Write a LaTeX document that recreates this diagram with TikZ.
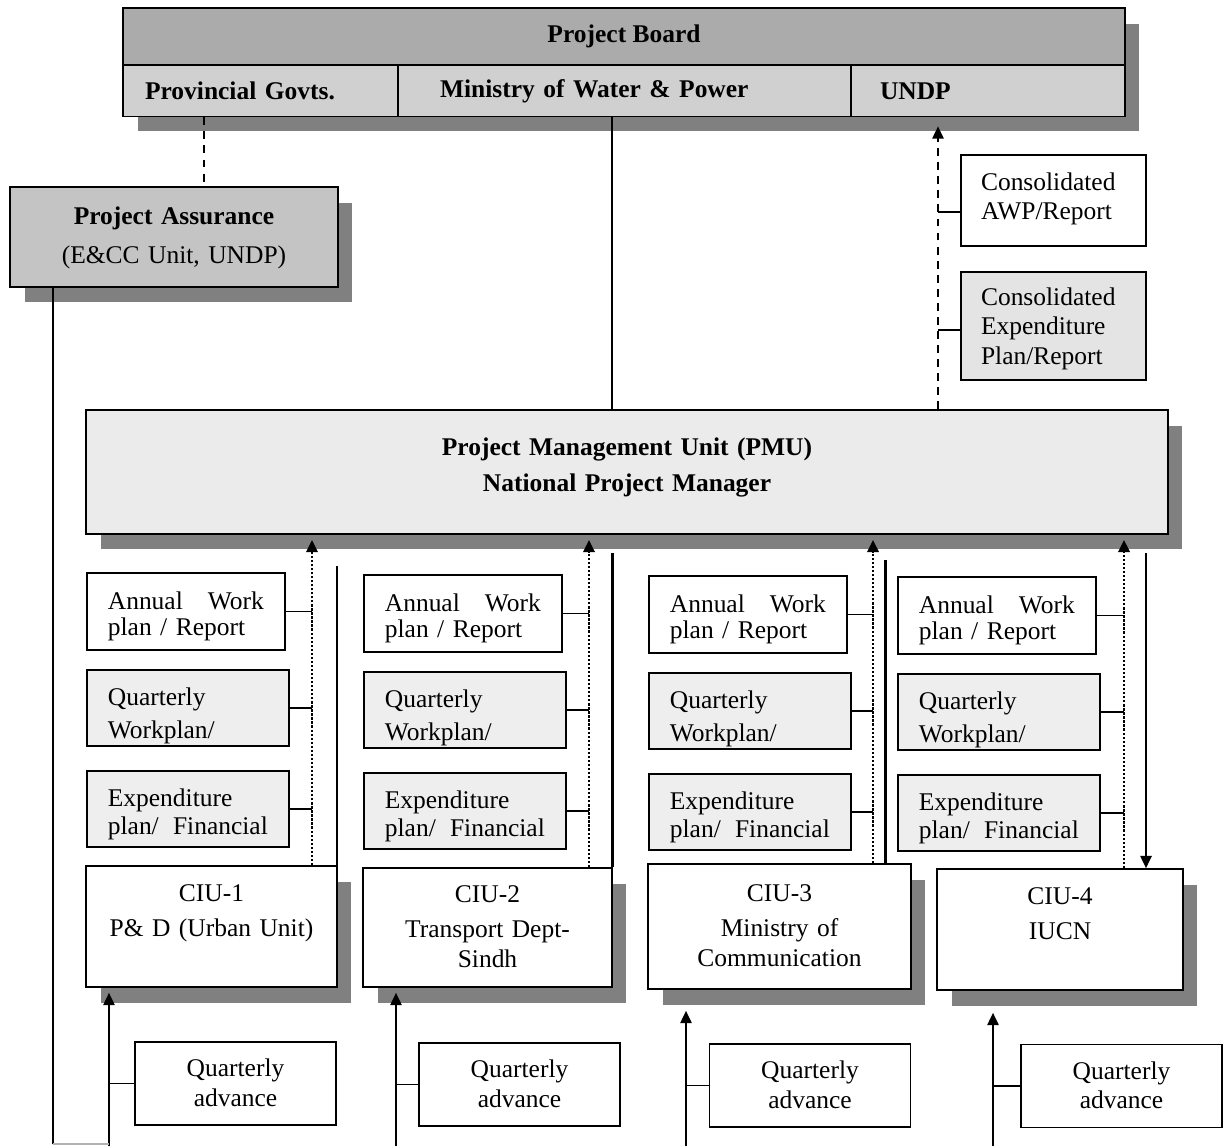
\documentclass[tikz,border=0pt]{standalone}
\usepackage{fontspec}
\setmainfont{Liberation Serif}
\usepackage{xcolor}
\usepackage{tikz}
\usetikzlibrary{arrows.meta, positioning, shadows}
\definecolor{boardgray}{HTML}{ABABAB}
\definecolor{rowgray}{HTML}{D0D0D0}
\definecolor{assuregray}{HTML}{C4C4C4}
\definecolor{pmugray}{HTML}{EBEBEB}
\definecolor{plangray}{HTML}{EEEEEE}
\definecolor{consgray}{HTML}{E4E4E4}
\definecolor{shadowgray}{HTML}{808080}

\begin{document}
\begin{tikzpicture}[x=0.02cm, y=-0.02cm,
    box/.style={draw, line width=1pt, inner sep=0pt, align=center,
      font=\fontsize{14.5}{17}\selectfont},
    firstline/.style={text height=0pt, text depth=#1},
    boxshadow/.style={drop shadow={shadow xshift=0.29cm,
      shadow yshift=-0.31cm, fill=shadowgray, opacity=1}},
    cell/.style={box, fill=rowgray, align=left,
      minimum height=1.02cm, font=\fontsize{14.5}{17}\selectfont\bfseries},
    linkline/.style={line width=1pt},
    barline/.style={line width=1.7pt},
    flowarrow/.style={line width=0.9pt, -{Triangle[length=7pt,width=6.5pt]}},
    reportarrow/.style={line width=1.4pt, dash pattern=on 1.3pt off 1pt,
      -{Triangle[length=7pt,width=6.5pt]}, shorten >=0.1cm},
    dashline/.style={line width=0.9pt, dash pattern=on 4.5pt off 3.5pt}]
  \useasboundingbox (0,0) rectangle (1226,1146);
  % Board on top
  \node[box, boxshadow, fill=rowgray, minimum width=20.04cm, minimum height=2.16cm]
    (frame) at (624,62) {};
  \node[box, fill=boardgray, minimum width=20.04cm, minimum height=1.14cm,
    font=\fontsize{14.5}{17}\selectfont\bfseries] (board) at (624,36.5) {Project Board};
  \node[cell, inner xsep=0.44cm, text width=4.62cm] (prov) at (260.5,91) {Provincial Govts.};
  \node[cell, inner xsep=0.84cm, text width=7.38cm] (mwp) at (624.5,91) {Ministry of Water \& Power};
  \node[cell, inner xsep=0.58cm, text width=4.32cm] (undp) at (988,91) {UNDP};
  % Assurance and consolidated reports
  \node[box, boxshadow, fill=assuregray, text width=6.56cm, minimum height=2cm,
    firstline=0.52cm, font=\fontsize{14.5}{22.7}\selectfont] (pa) at (174,237)
    {\textbf{Project Assurance}\\(E\&CC Unit, UNDP)};
  \node[box, align=left, inner xsep=0.4cm, text width=2.9cm, minimum height=1.82cm,
    firstline=0.42cm] (cawp) at (1053.5,200.5) {Consolidated\\AWP/Report};
  \node[box, fill=consgray, align=left, inner xsep=0.4cm, text width=2.9cm,
    minimum height=2.16cm, firstline=0.84cm] (cexp) at (1053.5,326)
    {Consolidated\\Expenditure\\Plan/Report};
  % PMU
  \node[box, boxshadow, fill=pmugray, text width=21.64cm, minimum height=2.48cm,
    firstline=0.68cm, font=\fontsize{14.5}{21}\selectfont\bfseries] (pmu) at (627,472)
    {Project Management Unit (PMU)\\National Project Manager};
  % CIUs
  \node[box, boxshadow, fill=white, text width=5.02cm, minimum height=2.42cm,
    firstline=1.02cm] (ciu1) at (211.5,926.5) {CIU-1\\[3pt]P\& D (Urban Unit)};
  \node[box, boxshadow, fill=white, text width=4.98cm, minimum height=2.38cm,
    firstline=1.02cm] (ciu2) at (487.5,927.5) {CIU-2\\[3pt]Transport Dept-\\Sindh};
  \node[box, boxshadow, fill=white, text width=5.26cm, minimum height=2.5cm,
    firstline=1.02cm] (ciu3) at (779.5,926.5) {CIU-3\\[3pt]Ministry of\\Communication};
  \node[box, boxshadow, fill=white, text width=4.92cm, minimum height=2.42cm,
    firstline=1.02cm] (ciu4) at (1060,929.5) {CIU-4\\[3pt]IUCN};
  % Plans and reports per CIU
  \foreach \i/\lx/\dy/\dx in {1/86/0/312, 2/363/2/589, 3/648/3/873, 4/897/4/1124}{
    \coordinate (dl\i) at (\dx,0);
    \node[box, fill=white, anchor=west, align=left, inner xsep=0.42cm, text width=3.12cm,
      minimum height=1.54cm, firstline=0.1cm, font=\fontsize{14.5}{15.3}\selectfont]
      (awp\i) at (\lx,611.5+\dy) {Annual \hfill Work\\plan / Report};
    \node[box, fill=plangray, anchor=west, align=left, inner xsep=0.42cm, text width=3.2cm,
      minimum height=1.52cm, firstline=0.12cm, font=\fontsize{14.5}{19.3}\selectfont]
      (qwp\i) at (\lx,708+\dy) {Quarterly\\Workplan/};
    \node[box, fill=plangray, anchor=west, align=left, inner xsep=0.42cm, text width=3.2cm,
      minimum height=1.52cm, firstline=0.12cm, font=\fontsize{14.5}{16.4}\selectfont]
      (exp\i) at (\lx,809+\dy) {Expenditure\\plan/ \hfill Financial};
    \draw[linkline] (awp\i.east) -- (awp\i.east -| dl\i);
    \draw[linkline] (qwp\i.east) -- (qwp\i.east -| dl\i);
    \draw[linkline] (exp\i.east) -- (exp\i.east -| dl\i);
    \draw[reportarrow] (ciu\i.north -| dl\i) -- (pmu.south -| dl\i);
  }
  % PMU down to CIUs
  \foreach \i/\sx/\sy in {1/337/566, 2/612/553, 3/885/560}{
    \coordinate (s\i) at (\sx,\sy);
    \draw[barline] (s\i) -- (s\i |- ciu\i.north);
  }
  \coordinate (s4) at (1146,553);
  \draw[flowarrow] (s4) -- (s4 |- ciu4.north);
  % Quarterly advances
  \foreach \i/\bx/\qx/\qy/\sh in {1/109/235.5/1083.5/0.1cm, 2/396/519.5/1084.5/0.1cm,
      3/686/810/1085.5/0.42cm, 4/993/1121.5/1086/0.44cm}{
    \coordinate (b\i) at (\bx,1146);
    \node[box, text width=4.02cm, minimum height=1.66cm, firstline=0.28cm]
      (qa\i) at (\qx,\qy) {Quarterly\\advance};
    \draw[flowarrow, shorten >=\sh] (b\i) -- (b\i |- ciu\i.south);
    \draw[linkline] (qa\i.west) -- (qa\i.west -| b\i);
  }
  % Links at the top
  \coordinate (pd) at (204,0);
  \coordinate (mw) at (612,0);
  \coordinate (ud) at (938,0);
  \coordinate (pa1) at (53,1144);
  \draw[dashline] (prov.south -| pd) -- (pa.north -| pd);
  \draw[linkline] (mwp.south -| mw) -- (pmu.north -| mw);
  \draw[dashline, -{Triangle[length=7pt,width=6.5pt]}, shorten >=0.18cm]
    (pmu.north -| ud) -- (undp.south -| ud);
  \draw[linkline] ([yshift=-0.23cm]cawp.west) -- ([yshift=-0.23cm]cawp.west -| ud);
  \draw[linkline] ([yshift=-0.08cm]cexp.west) -- ([yshift=-0.08cm]cexp.west -| ud);
  \draw[linkline] (pa.south -| pa1) -- (pa1);
  \draw[gray!60, line width=0.6pt] (pa1) -- (pa1 -| b1);
\end{tikzpicture}
\end{document}
